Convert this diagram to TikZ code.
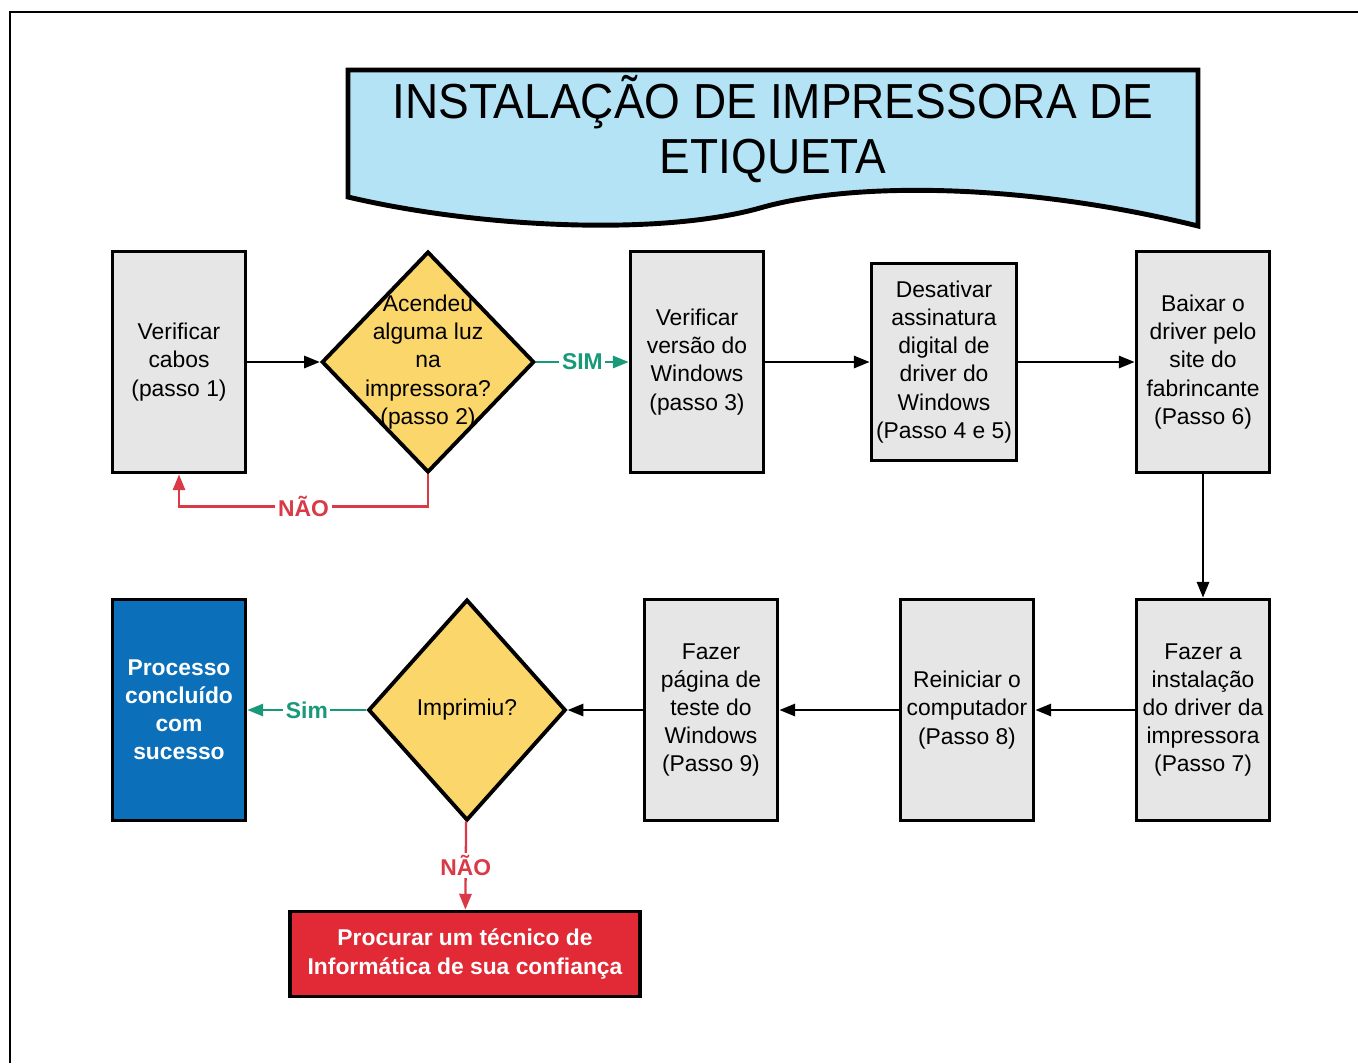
\documentclass[tikz,border=0pt]{standalone}
\usepackage{fontspec}
\setmainfont{Liberation Sans}
\newfontfamily\titlefont[FakeStretch=0.935]{Liberation Sans}
\usetikzlibrary{shapes.geometric,arrows.meta}

\definecolor{boxgray}{HTML}{E6E6E6}
\definecolor{diayellow}{HTML}{FBD66B}
\definecolor{okblue}{HTML}{0B70B9}
\definecolor{badred}{HTML}{E12A36}
\definecolor{simgreen}{HTML}{17997A}
\definecolor{naored}{HTML}{D93A46}
\definecolor{bannerblue}{HTML}{B4E3F6}

\begin{document}
\begin{tikzpicture}[x=0.02cm, y=-0.02cm,
    font=\fontsize{13}{16}\selectfont,
    box/.style={draw, line width=2.2pt, fill=boxgray, align=center,
      minimum width=2.66cm, minimum height=4.42cm, inner sep=2pt},
    dia/.style={draw, diamond, line width=2.2pt, fill=diayellow,
      minimum width=4.25cm, minimum height=4.42cm, inner sep=0pt},
    flow/.style={line width=1.3pt, -{Triangle[length=9pt,width=7pt]}},
    lbl/.style={font=\fontsize{13}{16}\selectfont\bfseries, fill=white, inner sep=1.5pt}]
    \useasboundingbox (0,0) rectangle (1358,1063);

    % Draw frame
    \draw[line width=1.3pt] (1358,12) -- (10,12) -- (10,1063);

    % Draw title banner
    \draw[line width=2.8pt, fill=bannerblue, line join=miter]
      (348,70) -- (1198,70) -- (1198,226)
      .. controls (1020,182) and (850,182) .. (760,208)
      .. controls (660,236) and (480,228) .. (348,197) -- cycle;
    \node[font=\titlefont\fontsize{28}{31.5}\selectfont, align=center] (title) at (773,129)
      {INSTALAÇÃO DE IMPRESSORA DE\\ETIQUETA};

    % Draw first row
    \node[box] (b1) at (179,362) {Verificar\\cabos\\(passo 1)};
    \node[dia, label={[align=center]center:Acendeu\\alguma luz\\na\\impressora?\\(passo 2)}] (d1) at (428,362) {};
    \node[box] (b3) at (697,362) {Verificar\\versão do\\Windows\\(passo 3)};
    \node[box, minimum width=2.9cm, minimum height=3.94cm] (b4) at (944,362)
      {Desativar\\assinatura\\digital de\\driver do\\Windows\\(Passo 4 e 5)};
    \node[box] (b5) at (1203,362) {Baixar o\\driver pelo\\site do\\fabrincante\\(Passo 6)};

    % Draw second row
    \node[box] (b7) at (1203,710) {Fazer a\\instalação\\do driver da\\impressora\\(Passo 7)};
    \node[box] (b8) at (967,710) {Reiniciar o\\computador\\(Passo 8)};
    \node[box] (b9) at (711,710) {Fazer\\página de\\teste do\\Windows\\(Passo 9)};
    \node[dia, minimum width=3.95cm, label=center:Imprimiu?] (d2) at (467,710) {};
    \node[box, fill=okblue, text=white, font=\fontsize{13}{16}\selectfont\bfseries] (ok) at (179,710)
      {Processo\\concluído\\com\\sucesso};
    \node[box, fill=badred, text=white, font=\fontsize{13}{16}\selectfont\bfseries,
      minimum width=7.0cm, minimum height=1.7cm] (bad) at (465,954)
      {Procurar um técnico de\\Informática de sua confiança};

    % Draw connectors
    \draw[flow] (b1) -- (d1);
    \draw[flow, simgreen] (d1) -- node[lbl] {SIM} (b3);
    \draw[flow] (b3) -- (b4);
    \draw[flow] (b4) -- (b5);
    \draw[flow] (b5) -- (b7);
    \draw[flow] (b7) -- (b8);
    \draw[flow] (b8) -- (b9);
    \draw[flow] (b9) -- (d2);
    \draw[flow, simgreen] (d2) -- node[lbl] {Sim} (ok);
    \draw[flow, naored] (d2) -- node[lbl] {NÃO} (bad);
    \draw[flow, naored] (d1.south) -- ++(0,32) -| node[lbl, pos=0.25] {NÃO} (b1.south);
\end{tikzpicture}
\end{document}
